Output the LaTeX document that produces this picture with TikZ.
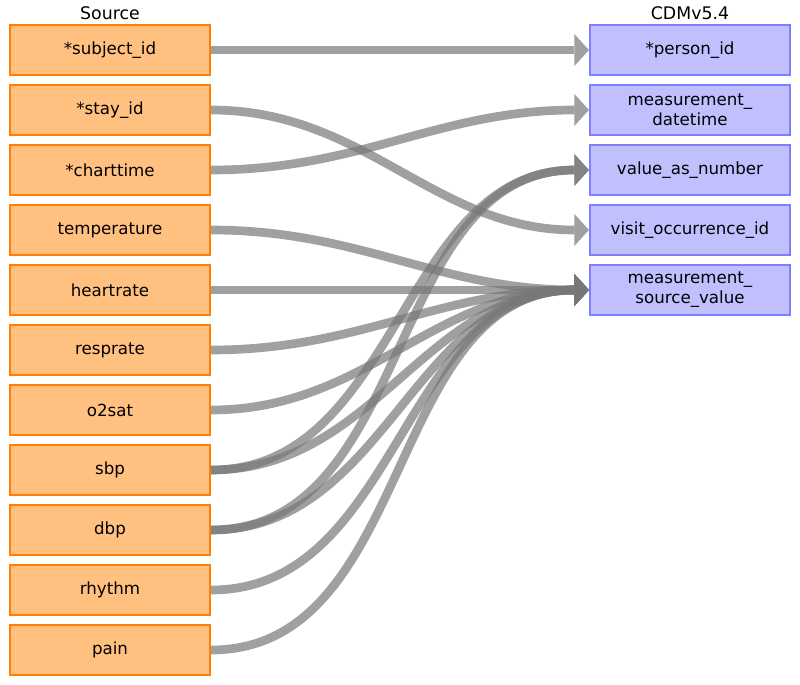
\documentclass[tikz,border=0pt]{standalone}
\usepackage{fontspec}
\setmainfont{DejaVu Sans}
\usetikzlibrary{arrows.meta}

\definecolor{srcfill}{RGB}{255,192,128}
\definecolor{srcline}{RGB}{255,128,0}
\definecolor{cdmfill}{RGB}{192,192,255}
\definecolor{cdmline}{RGB}{128,128,255}
\definecolor{mapgray}{RGB}{119,119,119}

\tikzset{
  srcbox/.style={draw=srcline, fill=srcfill, line width=1.5pt, minimum width=150pt, minimum height=37.5pt, inner sep=0pt, align=center, font=\fontsize{12.5}{15}\selectfont},
  cdmbox/.style={draw=cdmline, fill=cdmfill, line width=1.5pt, minimum width=150pt, minimum height=37.5pt, inner sep=0pt, align=center, font=\fontsize{12.5}{15}\selectfont},
  maparrow/.style={draw=mapgray, opacity=0.7, line width=6.5pt, -{Triangle[length=11pt, width=24pt, line width=0pt]}},
}

\begin{document}
\begin{tikzpicture}[x=0.75pt,y=0.75pt,yscale=-1,xscale=1]
\path [use as bounding box] (0,0) rectangle (800,685);

% Titles
\node (srctitle) at (110,13) {\fontsize{13}{14}\selectfont Source};
\node (cdmtitle) at (690,13) {\fontsize{13}{14}\selectfont CDMv5.4};

% Source fields
\node [srcbox] (subjectid)   at (110,50)  {*subject\_id};
\node [srcbox] (stayid)      at (110,110) {*stay\_id};
\node [srcbox] (charttime)   at (110,170) {*charttime};
\node [srcbox] (temperature) at (110,230) {temperature};
\node [srcbox] (heartrate)   at (110,290) {heartrate};
\node [srcbox] (resprate)    at (110,350) {resprate};
\node [srcbox] (otwosat)     at (110,410) {o2sat};
\node [srcbox] (sbp)         at (110,470) {sbp};
\node [srcbox] (dbp)         at (110,530) {dbp};
\node [srcbox] (rhythm)      at (110,590) {rhythm};
\node [srcbox] (pain)        at (110,650) {pain};

% CDM fields
\node [cdmbox] (personid)     at (690,50)  {*person\_id};
\node [cdmbox] (measdatetime) at (690,110) {measurement\_\\datetime};
\node [cdmbox] (valnumber)    at (690,170) {value\_as\_number};
\node [cdmbox] (visitid)      at (690,230) {visit\_occurrence\_id};
\node [cdmbox] (meassource)   at (690,290) {measurement\_\\source\_value};

% Mappings
\draw [maparrow] (subjectid.east) -- (personid.west);
\draw [maparrow] (stayid.east) to [out=0,in=180] (visitid.west);
\draw [maparrow] (charttime.east) to [out=0,in=180] (measdatetime.west);
\foreach \src in {temperature,heartrate,resprate,otwosat,sbp,dbp,rhythm,pain}
  \draw [maparrow] (\src.east) to [out=0,in=180] (meassource.west);
\foreach \src in {sbp,dbp}
  \draw [maparrow] (\src.east) to [out=0,in=180] (valnumber.west);

\end{tikzpicture}
\end{document}
